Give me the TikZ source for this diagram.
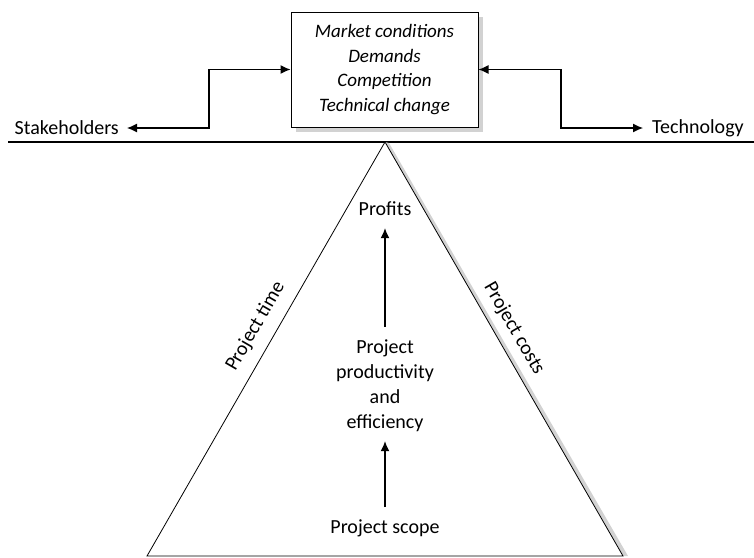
\documentclass[tikz,border=0pt]{standalone}
\usepackage{fontspec}
\setmainfont{Carlito}
\usetikzlibrary{arrows.meta,positioning}

\begin{document}
\begin{tikzpicture}[x=1pt, y=-1pt, font=\fontsize{20}{25}\selectfont,
		every node/.style={inner sep=0pt},
		link/.style={-{Latex[length=10pt,width=9pt]}, line width=1.2pt},
		twoway/.style={{Latex[length=10pt,width=9pt]}-{Latex[length=10pt,width=9pt]}, line width=1.2pt}]
		\useasboundingbox (0,0) rectangle (754,557);
		
		\fill[gray!35] (296,17) rectangle (483,132);
		\node[draw, fill=white, line width=1pt, minimum width=187pt, minimum height=115pt, align=center,
			font=\itshape\fontsize{19}{24.5}\selectfont] (factors) at (384.5,69.5)
			{Market conditions\\Demands\\Competition\\Technical change};
		
		\draw[line width=1.2pt] (8,142) -- (754,142);
		
		\node[anchor=east, inner xsep=8pt] (stake) at (127,128) {Stakeholders};
		\node[anchor=west, inner xsep=9pt] (tech) at (643,128) {Technology};
		\coordinate (lbend) at (209,128);
		\coordinate (rbend) at (561,128);
		\draw[twoway] (stake.east |- lbend) -- (lbend) |- (factors.west);
		\draw[twoway] (factors.east) -| (rbend) -- (tech.west |- rbend);
		
		\coordinate (apex) at (385,142);
		\coordinate (left) at (147,556);
		\coordinate (right) at (623,556);
		\fill[gray!35] (apex) -- ++(4,1) -- ([xshift=5pt]right) -- (right) -- cycle;
		\draw[line width=0.8pt] (left) -- (apex) -- (right) -- cycle;
		\node[rotate=60] (time) at (255.5,326.5) {Project time};
		\node[rotate=-60] (costs) at (514,328.5) {Project costs};
		
		\node (profits) at (385,209) {Profits};
		\node[align=center] (prod) at (385,386) {Project\\productivity\\and\\efficiency};
		\node (scope) at (385,528) {Project scope};
		\draw[link, shorten <=12pt, shorten >=9pt] (scope) -- (prod);
		\draw[link, shorten <=13pt, shorten >=12pt] (prod) -- (profits);
	\end{tikzpicture}
\end{document}
